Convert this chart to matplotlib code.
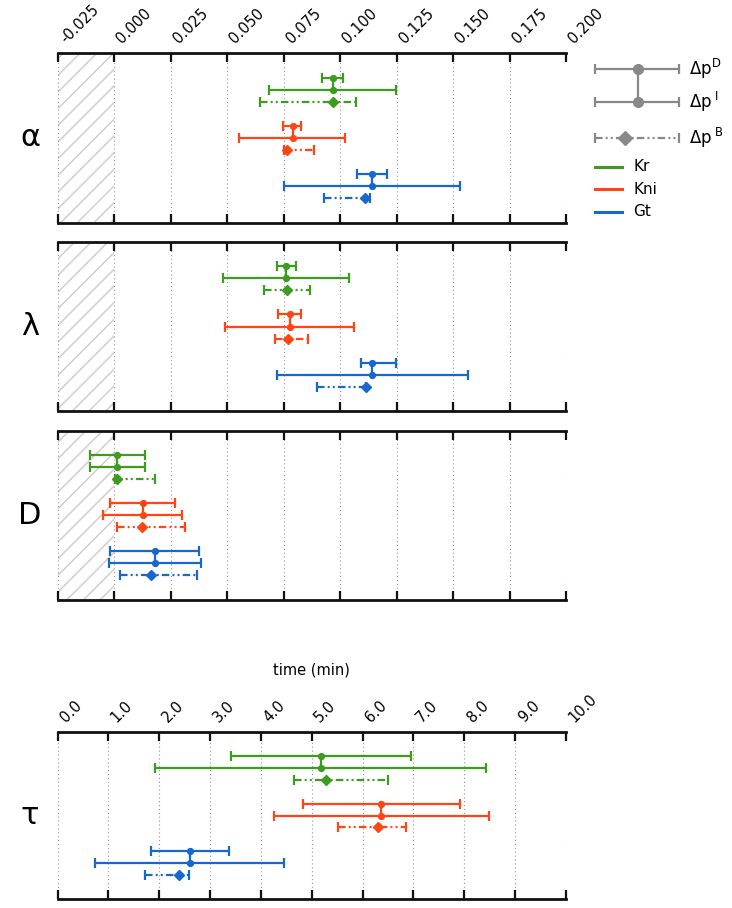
import matplotlib
matplotlib.use("Agg")
import matplotlib.pyplot as plt
from matplotlib.patches import Rectangle
import numpy as np

plt.rcParams['font.family'] = ['DejaVu Sans']
plt.rcParams['hatch.linewidth'] = 1.1

# ---------------- data ----------------
genes = ["Kr", "Kni", "Gt"]
gene_colors = ["#3c9c1e", "#ff4516", "#1668d0"]
param_labels = ["α", "λ", "D", "τ"]

# each entry: (low, center, high) for genes Kr, Kni, Gt
alpha_D = [(0.0921, 0.0967, 0.1013), (0.0747, 0.0790, 0.0828), (0.1077, 0.1141, 0.1209)]
alpha_I = [(0.0688, 0.0967, 0.1247), (0.0551, 0.0790, 0.1024), (0.0750, 0.1141, 0.1530)]
alpha_B = [(0.0644, 0.0971, 0.1072), (0.0751, 0.0765, 0.0884), (0.0927, 0.1111, 0.1133)]

lambda_D = [(0.0723, 0.0760, 0.0804), (0.0726, 0.0777, 0.0828), (0.1093, 0.1140, 0.1247)]
lambda_I = [(0.0484, 0.0760, 0.1038), (0.0490, 0.0777, 0.1063), (0.0721, 0.1140, 0.1565)]
lambda_B = [(0.0663, 0.0767, 0.0869), (0.0713, 0.0770, 0.0858), (0.0899, 0.1113, 0.1116)]

diff_D = [(-0.0104, 0.0015, 0.0135), (-0.0019, 0.0129, 0.0270), (-0.0019, 0.0183, 0.0378)]
diff_I = [(-0.0104, 0.0015, 0.0135), (-0.0049, 0.0129, 0.0301), (-0.0024, 0.0183, 0.0386)]
diff_B = [(0.0005, 0.0015, 0.0182), (0.0015, 0.0125, 0.0315), (0.0025, 0.0163, 0.0366)]

tau_D = [(3.42, 5.18, 6.95), (4.82, 6.36, 7.91), (1.84, 2.60, 3.37)]
tau_I = [(1.91, 5.18, 8.43), (4.26, 6.36, 8.48), (0.73, 2.60, 4.45)]
tau_B = [(4.66, 5.29, 6.49), (5.51, 6.30, 6.86), (1.72, 2.38, 2.58)]

rate_ticks = [-0.025, 0.0, 0.025, 0.05, 0.075, 0.1, 0.125, 0.15, 0.175, 0.2]
rate_ticklabels = ["-0.025", "0.000", "0.025", "0.050", "0.075", "0.100",
                   "0.125", "0.150", "0.175", "0.200"]
tau_ticks = list(range(0, 11))
tau_ticklabels = ["%.1f" % t for t in tau_ticks]

legend_labels = [r"$\Delta$p$^{\mathrm{D}}$", r"$\Delta$p$^{\ \mathrm{I}}$", r"$\Delta$p$^{\ \mathrm{B}}$"]

panels = [
    (alpha_D, alpha_I, alpha_B),
    (lambda_D, lambda_I, lambda_B),
    (diff_D, diff_I, diff_B),
    (tau_D, tau_I, tau_B),
]

# ---------------- figure ----------------
W, H = 732, 908
fig = plt.figure(figsize=(W / 100, H / 100), dpi=100)

def ax_px(x0, y0, x1, y1):
    return fig.add_axes([x0 / W, 1 - y1 / H, (x1 - x0) / W, (y1 - y0) / H])

axes_px = [(57.5, 53.5, 566, 222.5), (57.5, 242, 566, 411), (57.5, 431, 566, 599.5),
           (57.5, 732, 566, 899)]

DASH = (0, (3.4, 1.4, 0.9, 1.4, 0.9, 1.4))
LW = 1.6
CAP = 3.6
gray = "#888888"


def draw_set(ax, D, I, B, color, rows):
    rD, rI, rB = rows
    for (lo, c, hi), r in ((D, rD), (I, rI)):
        ax.errorbar([c], [r], xerr=[[c - lo], [hi - c]], fmt='o', color=color, ms=4.2,
                    elinewidth=LW, capsize=CAP, capthick=LW, zorder=4)
    ax.plot([D[1], I[1]], [rD, rI], color=color, lw=LW, zorder=3)
    lo, c, hi = B
    eb = ax.errorbar([c], [rB], xerr=[[c - lo], [hi - c]], fmt='D', color=color, ms=5.5,
                     elinewidth=LW, capsize=CAP, capthick=LW, zorder=4)
    eb[2][0].set_linestyle(DASH)


for k, ((Dl, Il, Bl), pos) in enumerate(zip(panels, axes_px)):
    ax = ax_px(*pos)
    is_tau = (k == 3)
    if is_tau:
        ax.set_xlim(0, 10)
        ax.set_xticks(tau_ticks)
        ax.set_xticklabels(tau_ticklabels)
    else:
        ax.set_xlim(-0.025, 0.2)
        ax.set_xticks(rate_ticks)
        ax.set_xticklabels(rate_ticklabels)
        ax.add_patch(Rectangle((-0.025, 0), 0.025, 14, facecolor='none', hatch='//',
                               edgecolor='#cfcfcf', linewidth=0, zorder=0))
    ax.set_ylim(14, 0)
    ax.set_yticks([])
    for s in ('left', 'right'):
        ax.spines[s].set_visible(False)
    for s in ('top', 'bottom'):
        ax.spines[s].set_linewidth(2.0)
        ax.spines[s].set_color('#111111')
    ax.grid(axis='x', linestyle=(0, (1, 2.5)), color='#999999', lw=0.8, zorder=1)
    ax.tick_params(axis='x', direction='in', length=6.5, width=1.6, top=True, bottom=True,
                   color='#111111')
    show_labels = (k == 0 or is_tau)
    ax.tick_params(axis='x', labeltop=show_labels, labelbottom=False, labelsize=10.5, pad=5)
    if show_labels:
        for lab in ax.get_xticklabels():
            lab.set_rotation(45)
            lab.set_ha('left')
    for g in range(3):
        base = 2 + 4 * g
        draw_set(ax, Dl[g], Il[g], Bl[g], gene_colors[g], (base, base + 1, base + 2))
    if is_tau:
        ax.xaxis.set_label_position('top')
        ax.set_xlabel("time (min)", fontsize=10.5, labelpad=12)
    yc = (pos[1] + pos[3]) / 2
    fig.text(30 / W, 1 - yc / H, param_labels[k], fontsize=22, ha='center', va='center')

# ---------------- legend ----------------
lax = ax_px(570, 40, 732, 240)
lax.set_xlim(570, 732)
lax.set_ylim(240, 40)
lax.axis('off')
leg_y = [69.3, 102.0, 137.7]
for yy in leg_y[:2]:
    lax.errorbar([638], [yy], xerr=[[43], [41]], fmt='o', color=gray, ms=7,
                 elinewidth=LW, capsize=CAP, capthick=LW)
lax.plot([638, 638], leg_y[:2], color=gray, lw=LW)
eb = lax.errorbar([625], [leg_y[2]], xerr=[[30], [54]], fmt='D', color=gray, ms=7,
                  elinewidth=LW, capsize=CAP, capthick=LW)
eb[2][0].set_linestyle(DASH)
for yy, lab in zip(leg_y, legend_labels):
    lax.text(689, yy, lab, fontsize=12, va='center', ha='left')
for yy, name, col in zip([166.7, 189.3, 211.7], genes, gene_colors):
    lax.plot([595, 622], [yy, yy], color=col, lw=2.2)
    lax.text(633, yy, name, fontsize=11, va='center', ha='left')

fig.savefig("out.png", dpi=100)
